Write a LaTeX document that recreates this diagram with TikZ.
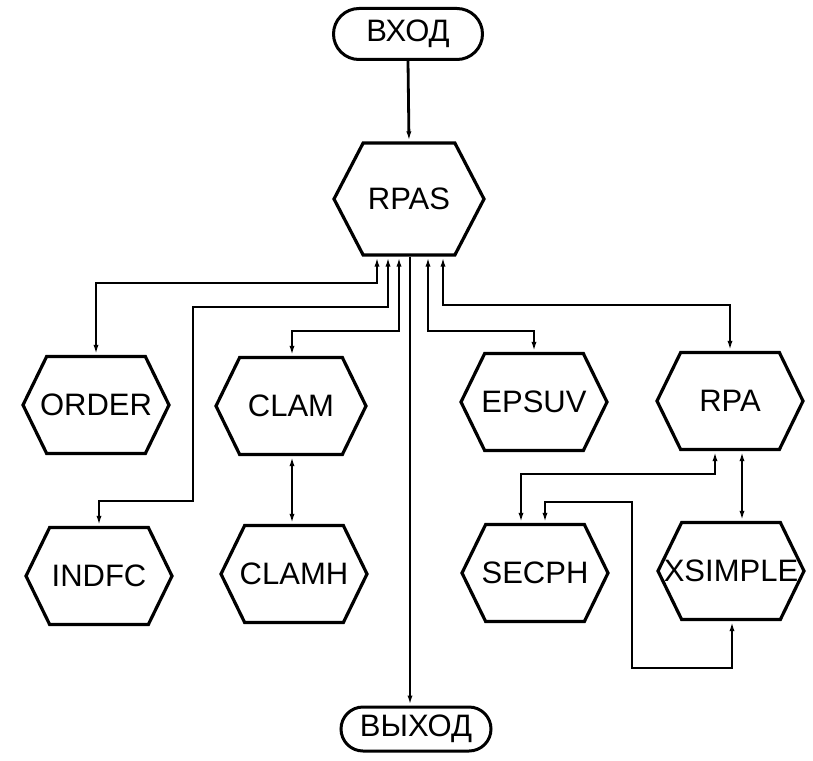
\documentclass[tikz,border=0pt]{standalone}
\usepackage{fontspec}
\setmainfont{Liberation Sans}
\usetikzlibrary{shapes.symbols,shapes.misc,arrows.meta}
\begin{document}
\begin{tikzpicture}[x=1pt,y=-1pt,
  lbl/.style={font=\fontsize{31}{32}\selectfont},
  hexbox/.style={draw, line width=3.2pt, shape=signal, signal to=east and west,
    signal pointer angle=128, minimum width=146pt, minimum height=97pt,
    inner sep=0pt, label={[lbl]center:#1}},
  termbox/.style={draw, line width=3pt, rounded rectangle, minimum width=149pt,
    minimum height=48pt, inner sep=0pt, lbl},
  tip/.tip={Latex[length=10pt,width=5pt]},
  conn/.style={line width=2.8pt, tip-tip},
  oneway/.style={line width=2.8pt, -tip}]
\useasboundingbox (0,0) rectangle (813,760);
% terminals
\node[termbox, minimum height=51pt] (in) at (408,34) {ВХОД};
\node[termbox, minimum width=150pt, minimum height=44pt] (out) at (416,729) {ВЫХОД};
% hexagons
\node[hexbox=RPAS, minimum width=150pt, minimum height=112pt, signal pointer angle=125] (rpas) at (409,199) {};
\node[hexbox=ORDER] (order) at (96,405) {};
\node[hexbox=CLAM, minimum width=150pt] (clam) at (291,406) {};
\node[hexbox=EPSUV] (epsuv) at (534,402) {};
\node[hexbox=RPA] (rpa) at (730,401) {};
\node[hexbox=INDFC] (indfc) at (99,576) {};
\node[hexbox=CLAMH] (clamh) at (294,574) {};
\node[hexbox=SECPH] (secph) at (535,573) {};
\node[hexbox=XSIMPLE] (xsimple) at (731,571) {};
% connectors
\draw[oneway] (in.south) -- (rpas.north);
\draw[oneway] ([xshift=1pt]rpas.south) -- ([xshift=1pt]rpas.south |- out.north);
\draw[conn] ([xshift=-32pt]rpas.south) -- (377,283) -| (order.north);
\draw[conn] ([xshift=-21pt]rpas.south) -- (388,307) -- (193,307) -- (193,501) -| (indfc.north);
\draw[conn] ([xshift=-10pt]rpas.south) -- (399,331) -| ([xshift=1pt]clam.north);
\draw[conn] ([xshift=19pt]rpas.south) -- (428,331) -| (epsuv.north);
\draw[conn] ([xshift=34pt]rpas.south) -- (443,305) -| (rpa.north);
\draw[conn] ([xshift=1pt]clam.south) -- ([xshift=1pt]clam.south |- clamh.north);
\draw[conn] ([xshift=-15pt]rpa.south) -- (715,474) -| ([xshift=-14pt]secph.north);
\draw[conn] ([xshift=12pt]rpa.south) -- ([xshift=12pt]rpa.south |- xsimple.north);
\draw[conn] ([xshift=10pt]secph.north) -- (545,502) -- (632,502) -- (632,668) -| ([xshift=1pt]xsimple.south);
\end{tikzpicture}
\end{document}
